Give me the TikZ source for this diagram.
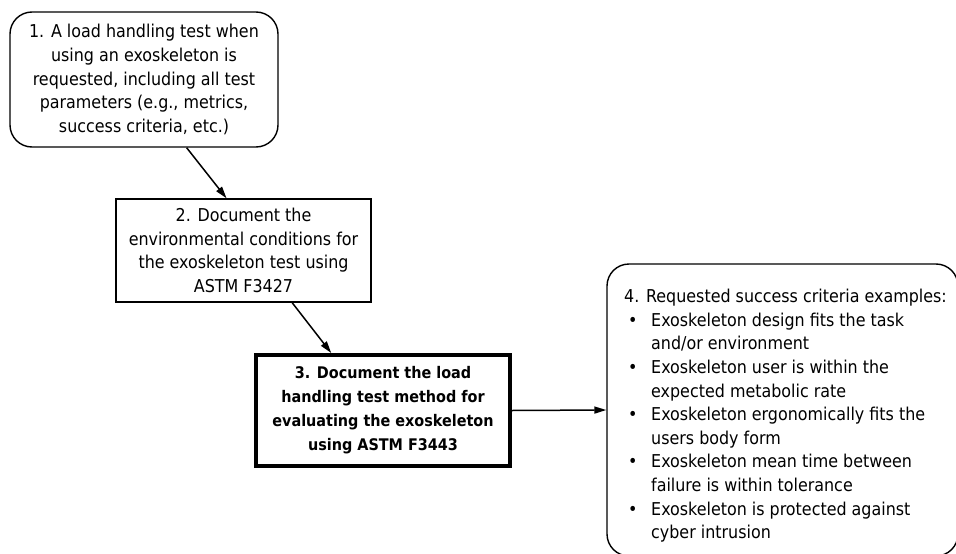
\documentclass[tikz,border=0pt]{standalone}
\usepackage{fontspec}
\setmainfont{DejaVu Sans Condensed}
\usetikzlibrary{arrows.meta}

\newcommand{\stepfont}{\fontsize{17.7}{23.6}\selectfont}

\tikzset{
  stepround/.style={draw, rounded corners=22pt, line width=1.4pt, align=center, inner sep=0pt},
  stepbox/.style={draw, line width=1.4pt, align=center, inner sep=0pt},
  stepbold/.style={draw, line width=4pt, align=center, inner sep=0pt, font=\fontsize{16}{24}\selectfont\bfseries},
  flow/.style={line width=1.5pt, -{Triangle[length=12pt,width=7pt]}},
}

\begin{document}
\begin{tikzpicture}[x=1pt, y=-1pt, font=\stepfont]
  \useasboundingbox (0,0) rectangle (956,554);
  % steps
  \node[stepround, minimum width=268pt, minimum height=135pt] (load) at (144,79.5)
    {1. A load handling test when\\ using an exoskeleton is\\ requested, including all test\\ parameters (e.g., metrics,\\ success criteria, etc.)};
  \node[stepbox, minimum width=255pt, minimum height=103pt] (env) at (243.5,250.5)
    {2. Document the\\ environmental conditions for\\ the exoskeleton test using\\ ASTM F3427};
  \node[stepbold, minimum width=254pt, minimum height=111pt] (method) at (383,410.5)
    {3. Document the load\\ handling test method for\\ evaluating the exoskeleton\\ using ASTM F3443};
  \begin{scope}
    \clip (0,0) rectangle (956,554);
    \node[stepround, minimum width=351pt, minimum height=292pt] (crit) at (782.5,410) {};
  \end{scope}
  \node[anchor=north west, align=left, inner sep=0pt] (critlist) at (624,289)
    {4. Requested success criteria examples:\\
     \makebox[27pt][l]{\hspace{4pt}\textbullet}Exoskeleton design fits the task\\
     \hspace*{27pt}and/or environment\\
     \makebox[27pt][l]{\hspace{4pt}\textbullet}Exoskeleton user is within the\\
     \hspace*{27pt}expected metabolic rate\\
     \makebox[27pt][l]{\hspace{4pt}\textbullet}Exoskeleton ergonomically fits the\\
     \hspace*{27pt}users body form\\
     \makebox[27pt][l]{\hspace{4pt}\textbullet}Exoskeleton mean time between\\
     \hspace*{27pt}failure is within tolerance\\
     \makebox[27pt][l]{\hspace{4pt}\textbullet}Exoskeleton is protected against\\
     \hspace*{27pt}cyber intrusion};
  % arrows
  \draw[flow] (load.-58) -- (env.108);
  \draw[flow] (env.-47) -- (method.132);
  \draw[flow] (method.east) -- (crit.west);
\end{tikzpicture}
\end{document}
